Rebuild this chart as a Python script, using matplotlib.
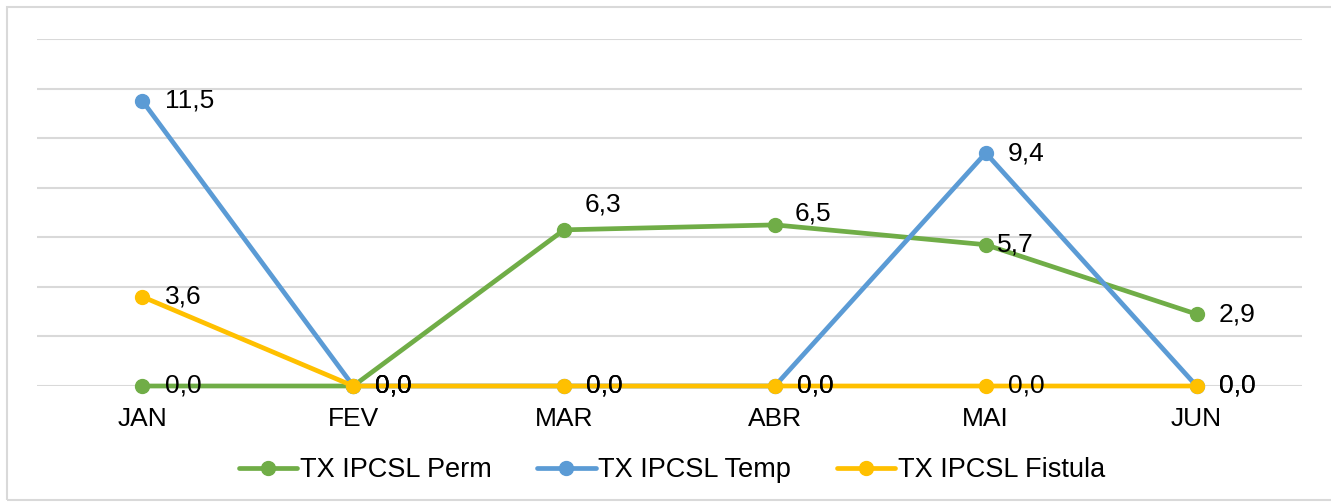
import matplotlib
matplotlib.use("Agg")
import matplotlib.pyplot as plt
from matplotlib.patches import Rectangle

months = ["JAN", "FEV", "MAR", "ABR", "MAI", "JUN"]
perm = [0.0, 0.0, 6.3, 6.5, 5.7, 2.9]
temp = [11.5, 0.0, 0.0, 0.0, 9.4, 0.0]
fistula = [3.6, 0.0, 0.0, 0.0, 0.0, 0.0]
series_names = ["TX IPCSL Perm", "TX IPCSL Temp", "TX IPCSL Fistula"]

colors = ["#70AD47", "#5B9BD5", "#FFC000"]

plt.rcParams['font.family'] = ['Liberation Sans', 'DejaVu Sans']

fig = plt.figure(figsize=(13.31, 5.03), dpi=100)
fig.patches.append(Rectangle((7/1331, 1 - 500/503), 1.2, 493/503, transform=fig.transFigure,
                             fill=False, edgecolor="#D9D9D9", linewidth=1.5, zorder=0))
ax = fig.add_axes([37/1331, 1 - 386/503, 1265/1331, 347/503])

x = list(range(len(months)))
all_series = [perm, temp, fistula]
for vals, name, c in zip(all_series, series_names, colors):
    ax.plot(x, vals, color=c, linewidth=3.4, marker="o", markersize=10,
            label=name, solid_capstyle="round", zorder=3, clip_on=False)

# label offsets (points): default right of point
special = {(0, 2): (15, 18), (0, 3): (14, 8), (0, 4): (8, 0)}
for si, vals in enumerate(all_series):
    for i, v in enumerate(vals):
        dx, dy = special.get((si, i), (16, 0))
        ax.annotate(f"{v:.1f}".replace(".", ","), (i, v), xytext=(dx, dy),
                    textcoords="offset points", ha="left", va="center",
                    fontsize=19, color="black", zorder=4, annotation_clip=False)

ax.set_xlim(-0.5, 5.5)
ax.set_ylim(0, 14)
ax.set_yticks(range(0, 15, 2))
ax.set_yticklabels([])
ax.tick_params(axis="y", length=0)
ax.set_xticks(x)
ax.set_xticklabels(months, fontsize=19)
ax.tick_params(axis="x", length=0, pad=15)
ax.grid(axis="y", color="#D9D9D9", linewidth=1.5, zorder=0)
ax.set_axisbelow(True)
for s in ax.spines.values():
    s.set_visible(False)

leg = fig.legend(loc="center", bbox_to_anchor=(672/1331, 1 - 470/503), ncol=3,
                 frameon=False, fontsize=19.5, handlelength=2.15, handletextpad=0.1,
                 columnspacing=1.7)

fig.savefig("out.png", dpi=100)
